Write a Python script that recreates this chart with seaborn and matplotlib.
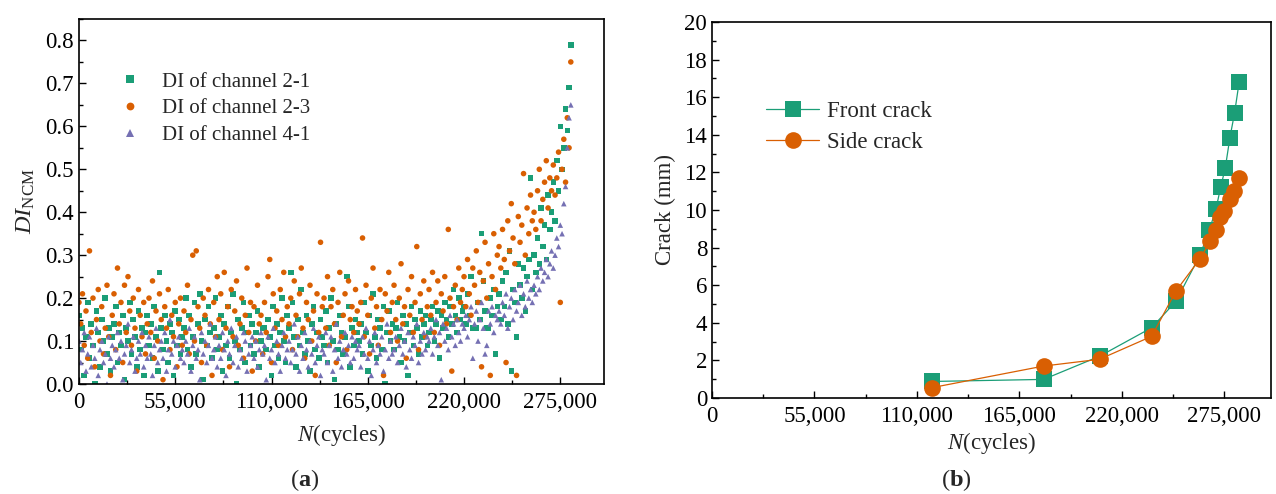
import numpy as np
import pandas as pd
import matplotlib
matplotlib.use("Agg")
import matplotlib.pyplot as plt
from matplotlib.ticker import MultipleLocator, FuncFormatter, FormatStrFormatter
import seaborn as sns

# ---------------------------------------------------------------- data
# damage index sampled every 1,000 load cycles (0 ... 281,000)
cycles = np.arange(0, 282000, 1000)

di_channel_21 = [
    0.16, 0.08, 0.13, 0.02, 0.11, 0.19, 0.06, 0.14, 0.09, 0.00, 0.17, 0.12, 0.04, 0.15, 0.10, 0.20, 0.07, 0.13, 0.03, 0.11,
    0.14, 0.18, 0.05, 0.12, 0.09, 0.16, 0.01, 0.13, 0.10, 0.19, 0.07, 0.15, 0.11, 0.04, 0.17, 0.08, 0.13, 0.02, 0.12, 0.16,
    0.09, 0.14, 0.06, 0.18, 0.11, 0.03, 0.26, 0.13, 0.08, 0.16, 0.10, 0.05, 0.14, 0.12, 0.02, 0.17, 0.09, 0.15, 0.07, 0.11,
    0.13, 0.20, 0.08, 0.16, 0.04, 0.11, 0.19, 0.07, 0.14, 0.21, 0.10, 0.01, 0.15, 0.09, 0.18, 0.12, 0.06, 0.13, 0.20, 0.08,
    0.11, 0.16, 0.03, 0.14, 0.09, 0.18, 0.06, 0.12, 0.21, 0.10, 0.00, 0.15, 0.08, 0.13, 0.19, 0.05, 0.12, 0.16, 0.09, 0.14,
    0.07, 0.12, 0.17, 0.04, 0.10, 0.13, 0.13, 0.08, 0.15, 0.11, 0.02, 0.18, 0.09, 0.14, 0.06, 0.12, 0.20, 0.10, 0.05, 0.16,
    0.13, 0.26, 0.19, 0.11, 0.04, 0.15, 0.09, 0.22, 0.12, 0.07, 0.16, 0.10, 0.03, 0.14, 0.18, 0.08, 0.12, 0.06, 0.15, 0.11,
    0.09, 0.17, 0.05, 0.13, 0.20, 0.10, 0.01, 0.14, 0.08, 0.16, 0.12, 0.07, 0.11, 0.25, 0.18, 0.04, 0.13, 0.09, 0.15, 0.12,
    0.10, 0.14, 0.07, 0.19, 0.12, 0.03, 0.16, 0.09, 0.21, 0.11, 0.06, 0.15, 0.13, 0.08, 0.18, 0.00, 0.12, 0.17, 0.10, 0.14,
    0.08, 0.13, 0.19, 0.11, 0.05, 0.16, 0.10, 0.14, 0.02, 0.12, 0.18, 0.09, 0.15, 0.13, 0.07, 0.17, 0.11, 0.14, 0.16, 0.09,
    0.12, 0.15, 0.18, 0.10, 0.14, 0.17, 0.06, 0.16, 0.13, 0.19, 0.15, 0.11, 0.18, 0.14, 0.22, 0.16, 0.12, 0.20, 0.15, 0.17,
    0.18, 0.14, 0.21, 0.16, 0.25, 0.13, 0.13, 0.13, 0.19, 0.15, 0.35, 0.24, 0.17, 0.13, 0.13, 0.20, 0.16, 0.22, 0.07, 0.18,
    0.21, 0.15, 0.24, 0.18, 0.26, 0.14, 0.31, 0.03, 0.22, 0.19, 0.11, 0.28, 0.23, 0.20, 0.27, 0.17, 0.25, 0.29, 0.48, 0.22,
    0.30, 0.26, 0.34, 0.28, 0.41, 0.32, 0.37, 0.29, 0.44, 0.36, 0.40, 0.47, 0.38, 0.52, 0.45, 0.60, 0.50, 0.55, 0.64, 0.59,
    0.69, 0.79,
]

di_channel_23 = [
    0.19, 0.14, 0.21, 0.09, 0.17, 0.06, 0.31, 0.12, 0.20, 0.04, 0.15, 0.22, 0.10, 0.18, 0.07, 0.13, 0.23, 0.11, 0.02, 0.16,
    0.21, 0.08, 0.27, 0.14, 0.19, 0.05, 0.23, 0.12, 0.25, 0.17, 0.09, 0.20, 0.13, 0.03, 0.22, 0.16, 0.11, 0.19, 0.07, 0.14,
    0.20, 0.12, 0.24, 0.06, 0.17, 0.10, 0.21, 0.15, 0.01, 0.18, 0.13, 0.22, 0.08, 0.16, 0.11, 0.19, 0.04, 0.14, 0.20, 0.09,
    0.17, 0.12, 0.23, 0.07, 0.15, 0.30, 0.10, 0.31, 0.18, 0.13, 0.05, 0.20, 0.16, 0.09, 0.22, 0.14, 0.02, 0.19, 0.11, 0.25,
    0.15, 0.21, 0.08, 0.26, 0.13, 0.18, 0.04, 0.22, 0.11, 0.17, 0.24, 0.09, 0.14, 0.20, 0.06, 0.16, 0.27, 0.12, 0.19, 0.03,
    0.18, 0.10, 0.23, 0.14, 0.16, 0.07, 0.19, 0.12, 0.25, 0.29, 0.05, 0.21, 0.13, 0.17, 0.09, 0.22, 0.15, 0.26, 0.11, 0.18,
    0.14, 0.20, 0.08, 0.24, 0.16, 0.11, 0.21, 0.27, 0.13, 0.06, 0.19, 0.15, 0.23, 0.10, 0.17, 0.02, 0.21, 0.12, 0.33, 0.18,
    0.20, 0.13, 0.25, 0.09, 0.18, 0.22, 0.14, 0.05, 0.19, 0.26, 0.11, 0.16, 0.21, 0.08, 0.24, 0.15, 0.18, 0.12, 0.22, 0.17,
    0.14, 0.19, 0.34, 0.11, 0.23, 0.16, 0.07, 0.20, 0.27, 0.13, 0.18, 0.09, 0.22, 0.15, 0.02, 0.21, 0.17, 0.26, 0.12, 0.19,
    0.23, 0.15, 0.10, 0.20, 0.28, 0.14, 0.18, 0.06, 0.22, 0.16, 0.25, 0.12, 0.19, 0.32, 0.08, 0.21, 0.15, 0.24, 0.11, 0.18,
    0.22, 0.16, 0.26, 0.12, 0.19, 0.24, 0.09, 0.21, 0.17, 0.25, 0.14, 0.36, 0.20, 0.03, 0.18, 0.23, 0.15, 0.27, 0.19, 0.22,
    0.25, 0.18, 0.29, 0.21, 0.16, 0.27, 0.23, 0.31, 0.19, 0.26, 0.04, 0.24, 0.33, 0.20, 0.28, 0.02, 0.25, 0.35, 0.22, 0.30,
    0.32, 0.27, 0.36, 0.29, 0.05, 0.38, 0.31, 0.42, 0.34, 0.28, 0.02, 0.39, 0.33, 0.37, 0.49, 0.30, 0.41, 0.35, 0.44, 0.38,
    0.40, 0.36, 0.45, 0.50, 0.38, 0.43, 0.47, 0.52, 0.41, 0.48, 0.45, 0.51, 0.44, 0.48, 0.54, 0.19, 0.50, 0.57, 0.47, 0.62,
    0.55, 0.75,
]

di_channel_41 = [
    0.10, 0.05, 0.08, 0.12, 0.03, 0.07, 0.11, 0.04, 0.09, 0.06, 0.13, 0.02, 0.08, 0.10, 0.05, 0.07, 0.00, 0.11, 0.06, 0.09,
    0.04, 0.08, 0.12, 0.06, 0.10, 0.01, 0.07, 0.09, 0.14, 0.05, 0.08, 0.11, 0.03, 0.06, 0.10, 0.07, 0.12, 0.04, 0.09, 0.06,
    0.11, 0.07, 0.02, 0.09, 0.13, 0.05, 0.08, 0.10, 0.06, 0.12, 0.03, 0.08, 0.15, 0.07, 0.10, 0.04, 0.09, 0.11, 0.06, 0.08,
    0.05, 0.10, 0.07, 0.13, 0.03, 0.09, 0.11, 0.06, 0.08, 0.01, 0.12, 0.07, 0.10, 0.05, 0.09, 0.14, 0.06, 0.08, 0.11, 0.04,
    0.09, 0.06, 0.12, 0.08, 0.02, 0.10, 0.07, 0.13, 0.05, 0.09, 0.11, 0.04, 0.08, 0.06, 0.12, 0.10, 0.03, 0.07, 0.09, 0.11,
    0.06, 0.10, 0.04, 0.08, 0.12, 0.07, 0.09, 0.01, 0.11, 0.06, 0.08, 0.13, 0.05, 0.10, 0.07, 0.03, 0.09, 0.12, 0.06, 0.08,
    0.10, 0.05, 0.08, 0.14, 0.07, 0.11, 0.03, 0.09, 0.06, 0.12, 0.08, 0.04, 0.10, 0.07, 0.13, 0.05, 0.09, 0.11, 0.02, 0.08,
    0.07, 0.12, 0.05, 0.09, 0.11, 0.03, 0.08, 0.14, 0.06, 0.10, 0.04, 0.08, 0.12, 0.07, 0.09, 0.05, 0.11, 0.06, 0.10, 0.08,
    0.09, 0.04, 0.11, 0.07, 0.13, 0.06, 0.10, 0.02, 0.08, 0.12, 0.05, 0.09, 0.07, 0.11, 0.03, 0.08, 0.14, 0.06, 0.10, 0.07,
    0.08, 0.11, 0.05, 0.09, 0.13, 0.07, 0.10, 0.04, 0.12, 0.08, 0.06, 0.11, 0.09, 0.14, 0.05, 0.10, 0.07, 0.12, 0.08, 0.11,
    0.10, 0.13, 0.07, 0.11, 0.15, 0.09, 0.12, 0.01, 0.14, 0.10, 0.13, 0.08, 0.16, 0.11, 0.14, 0.09, 0.15, 0.12, 0.10, 0.14,
    0.13, 0.16, 0.11, 0.15, 0.18, 0.06, 0.14, 0.17, 0.10, 0.15, 0.19, 0.13, 0.07, 0.09, 0.17, 0.14, 0.18, 0.12, 0.16, 0.15,
    0.17, 0.14, 0.19, 0.16, 0.21, 0.13, 0.18, 0.20, 0.15, 0.22, 0.17, 0.19, 0.23, 0.16, 0.21, 0.18, 0.24, 0.20, 0.22, 0.19,
    0.23, 0.21, 0.25, 0.22, 0.27, 0.24, 0.26, 0.29, 0.25, 0.28, 0.31, 0.27, 0.30, 0.34, 0.32, 0.37, 0.35, 0.42, 0.46, 0.55,
    0.62, 0.65,
]

series_labels = ["DI of channel 2-1", "DI of channel 2-3", "DI of channel 4-1"]

# measured crack length (mm) against load cycles
front_cycles = [118000, 178000, 208000, 236000, 249000, 262000, 267000,
                270500, 273000, 275500, 278000, 280500, 283000]
front_crack = [0.88, 0.99, 2.22, 3.74, 5.14, 7.61, 8.95,
               10.04, 11.20, 12.23, 13.85, 15.16, 16.83]
side_cycles = [118000, 178000, 208000, 236000, 249000, 262000, 267500,
               270500, 272500, 275000, 278000, 280000, 283000]
side_crack = [0.55, 1.70, 2.06, 3.28, 5.69, 7.41, 8.35,
              8.95, 9.63, 9.95, 10.57, 11.01, 11.70]

x_ticks = [0, 55000, 110000, 165000, 220000, 275000]

# ---------------------------------------------------------------- style
sns.set_theme(style="ticks")
plt.rcParams["font.family"] = ["Liberation Serif", "DejaVu Serif"]
plt.rcParams["mathtext.fontset"] = "custom"
plt.rcParams["mathtext.rm"] = "Liberation Serif"
plt.rcParams["mathtext.it"] = "Liberation Serif:italic"
plt.rcParams["mathtext.bf"] = "Liberation Serif:bold"

FS = 16.5
LEG_FS = 15
GREEN, ORANGE, PURPLE = "#1b9e77", "#d95f02", "#7570b3"

fig = plt.figure(figsize=(12.76, 4.94), dpi=100)
ax1 = fig.add_axes([0.0619, 0.2227, 0.4115, 0.7388])
ax2 = fig.add_axes([0.558, 0.1943, 0.438, 0.7612])

thousands = FuncFormatter(lambda v, p: f"{v:,.0f}")


def style_axes(ax):
    for sp in ax.spines.values():
        sp.set_visible(True)
        sp.set_color("black")
        sp.set_linewidth(1.2)
    ax.tick_params(which="both", direction="in", top=False, right=False,
                   colors="black", labelsize=FS, width=1.0)
    ax.tick_params(which="major", length=5)
    ax.tick_params(which="minor", length=3)
    ax.tick_params(axis="x", which="major", pad=6)
    ax.set_xticks(x_ticks)
    ax.xaxis.set_minor_locator(MultipleLocator(27500))
    ax.xaxis.set_major_formatter(thousands)
    ax.set_xlim(0, 300000)


# ---------------------------------------------------------------- (a) damage index scatter
df = pd.DataFrame({
    "cycles": np.concatenate([cycles, cycles, cycles]),
    "DI": np.concatenate([di_channel_21, di_channel_23, di_channel_41]),
    "series": np.repeat(series_labels, len(cycles)),
})
sns.scatterplot(data=df, x="cycles", y="DI", hue="series", style="series",
                hue_order=series_labels, style_order=series_labels,
                palette=[GREEN, ORANGE, PURPLE],
                markers={series_labels[0]: "s", series_labels[1]: "o", series_labels[2]: "^"},
                s=16, linewidth=0, ax=ax1)
style_axes(ax1)
ax1.set_ylim(0, 0.85)
ax1.set_yticks(np.arange(0, 0.81, 0.1))
ax1.yaxis.set_minor_locator(MultipleLocator(0.05))
ax1.yaxis.set_major_formatter(FormatStrFormatter("%.1f"))
ax1.set_xlabel(r"$\mathit{N}$(cycles)", fontsize=FS, labelpad=6)
ax1.set_ylabel(r"$\mathit{DI}_{\mathrm{NCM}}$", fontsize=FS + 1, labelpad=6)
h, l = ax1.get_legend_handles_labels()
ax1.legend(h, l, loc="upper left", bbox_to_anchor=(0.077, 0.855), frameon=False,
           fontsize=LEG_FS, markerscale=1.4, handlelength=1.0, handletextpad=1.05,
           labelspacing=0.35, borderpad=0, borderaxespad=0)

# ---------------------------------------------------------------- (b) crack growth
sns.lineplot(x=front_cycles, y=front_crack, sort=False, color=GREEN, marker="s",
             markersize=11, markeredgewidth=0, linewidth=0.9, label="Front crack", ax=ax2)
sns.lineplot(x=side_cycles, y=side_crack, sort=False, color=ORANGE, marker="o",
             markersize=12, markeredgewidth=0, linewidth=0.9, label="Side crack", ax=ax2)
style_axes(ax2)
ax2.set_ylim(0, 20)
ax2.set_yticks(np.arange(0, 21, 2))
ax2.yaxis.set_minor_locator(MultipleLocator(1))
ax2.set_xlabel(r"$\mathit{N}$(cycles)", fontsize=FS, labelpad=2)
ax2.set_ylabel("Crack (mm)", fontsize=FS, labelpad=6)
ax2.legend(loc="upper left", bbox_to_anchor=(0.097, 0.79), frameon=False,
           fontsize=FS, handlelength=2.3, handletextpad=0.35,
           labelspacing=0.45, borderpad=0, borderaxespad=0)

# ---------------------------------------------------------------- panel tags
fig.text(305 / 1276, 1 - 480 / 494, r"($\mathbf{a}$)", fontsize=FS + 1, ha="center", va="center")
fig.text(956 / 1276, 1 - 480 / 494, r"($\mathbf{b}$)", fontsize=FS + 1, ha="center", va="center")

fig.savefig("out.png", dpi=100)
